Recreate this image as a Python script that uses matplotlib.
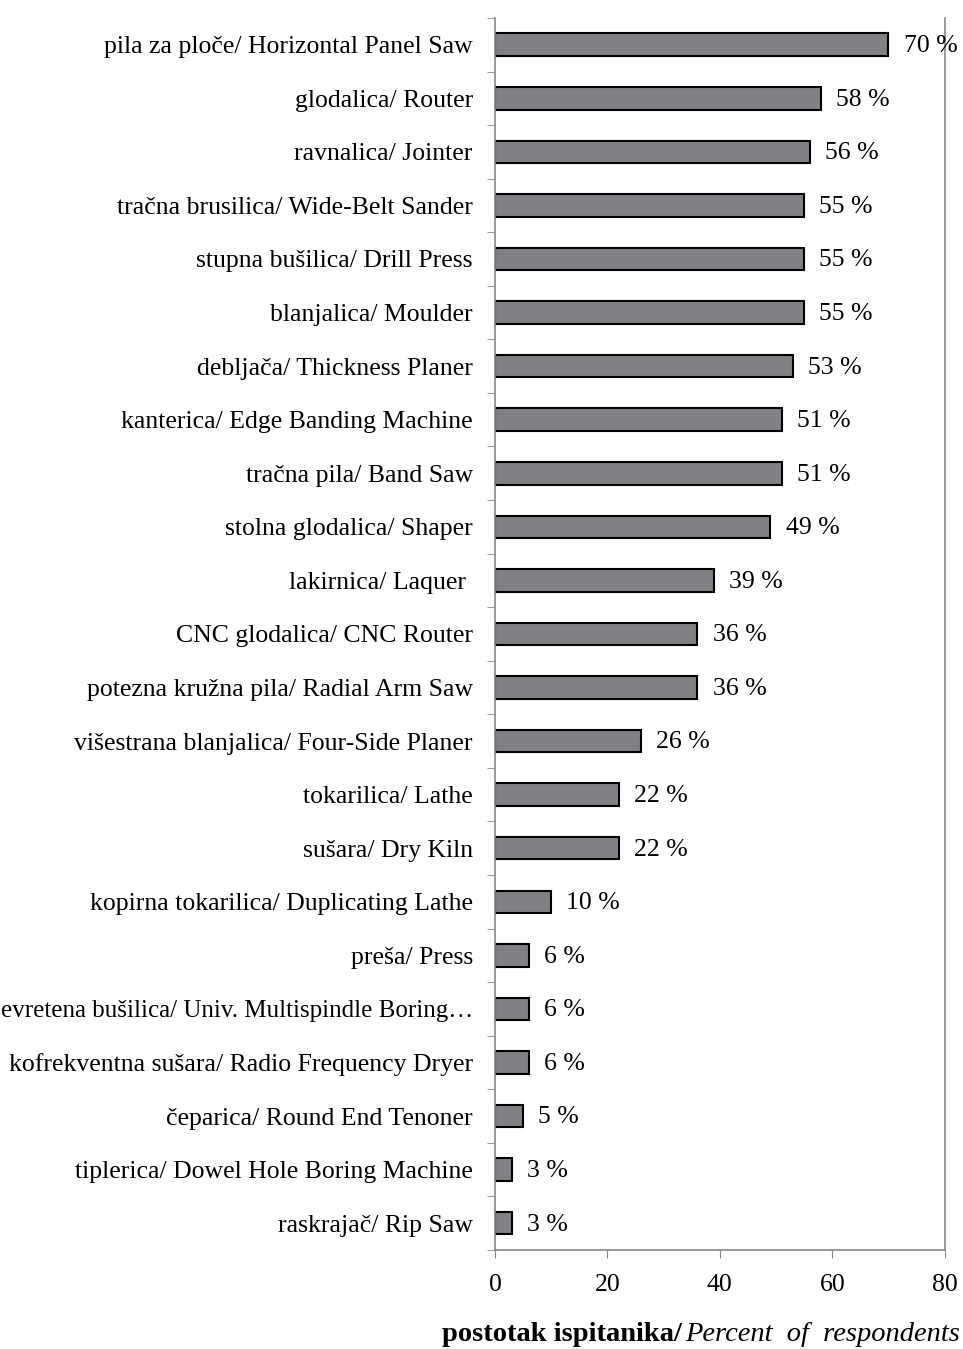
import matplotlib.pyplot as plt
import numpy as np

plt.rcParams['font.family'] = ['Liberation Serif', 'DejaVu Serif']

# the two long labels are cut at the left edge in the source; keep the visible part
labels = [
    "pila za ploče/ Horizontal Panel Saw",
    "glodalica/ Router",
    "ravnalica/ Jointer",
    "tračna brusilica/ Wide-Belt Sander",
    "stupna bušilica/ Drill Press",
    "blanjalica/ Moulder",
    "debljača/ Thickness Planer",
    "kanterica/ Edge Banding Machine",
    "tračna pila/ Band Saw",
    "stolna glodalica/ Shaper",
    "lakirnica/ Laquer ",
    "CNC glodalica/ CNC Router",
    "potezna kružna pila/ Radial Arm Saw",
    "višestrana blanjalica/ Four-Side Planer",
    "tokarilica/ Lathe",
    "sušara/ Dry Kiln",
    "kopirna tokarilica/ Duplicating Lathe",
    "preša/ Press",
    "evretena bušilica/ Univ. Multispindle Boring…",
    "kofrekventna sušara/ Radio Frequency Dryer",
    "čeparica/ Round End Tenoner",
    "tiplerica/ Dowel Hole Boring Machine",
    "raskrajač/ Rip Saw",
]
values = [70, 58, 56, 55, 55, 55, 53, 51, 51, 49, 39, 36, 36, 26, 22, 22, 10, 6, 6, 6, 5, 3, 3]
xticks = [0, 20, 40, 60, 80]

fs = 18.5

fig = plt.figure(figsize=(9.63, 13.49), dpi=100)
ax = fig.add_axes([0.514, 0.0734, 0.467, 0.9133])

y = np.arange(len(labels))
ax.barh(y, values, height=0.42, color='#808085', edgecolor='black', linewidth=1.5)

for yi, v in zip(y, values):
    ax.annotate(f"{v} %", xy=(v, yi), xytext=(11, -1), textcoords='offset points',
                va='center', ha='left', fontsize=fs)

ax.set_xlim(0, 80)
ax.set_ylim(len(labels) - 0.5, -0.5)
ax.set_yticks(y)
ax.set_yticklabels(labels, fontsize=fs)
for t in ax.get_yticklabels():
    if t.get_text().startswith("evretena"):
        t.set_fontsize(18.0)
ax.set_yticks(np.arange(-0.5, len(labels)), minor=True)
ax.tick_params(axis='y', which='major', length=0, pad=16)
ax.tick_params(axis='y', which='minor', length=6, color='#888888', direction='out')
ax.set_xticks(xticks)
ax.set_xticklabels([str(t) for t in xticks], fontsize=fs)
ax.tick_params(axis='x', length=6, color='#888888', direction='out', pad=11)

for s in ['left', 'bottom', 'right']:
    ax.spines[s].set_color('#888888')
    ax.spines[s].set_linewidth(1.2)
ax.spines['top'].set_visible(False)

fig.text(0.708, 0.0104, "postotak ispitanika/", ha='right', va='center',
         fontsize=20.5, fontweight='bold')
fig.text(0.712, 0.0104, "Percent  of  respondents", ha='left', va='center',
         fontsize=20.5, style='italic')

fig.savefig('out.png', dpi=100)
